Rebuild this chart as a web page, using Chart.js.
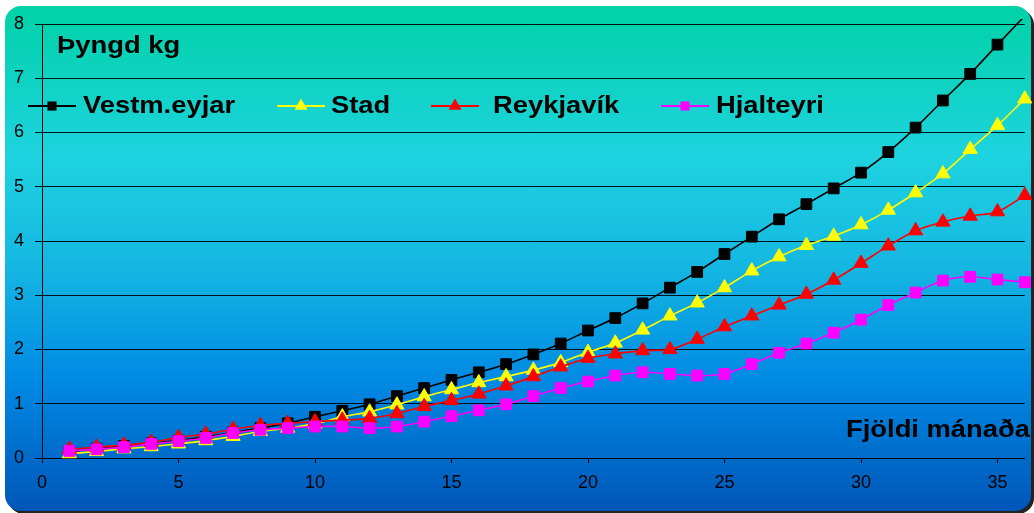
<!DOCTYPE html>
<html>
<head>
<meta charset="utf-8">
<script src="https://cdn.jsdelivr.net/npm/chart.js@4/dist/chart.umd.min.js"></script>
<style>
  html, body { margin: 0; padding: 0; background: #ffffff; }
  canvas { display: block; }
</style>
</head>
<body>
<canvas id="chart" width="1034" height="513"></canvas>
<script>
// Age in months
const months = [1, 2, 3, 4, 5, 6, 7, 8, 9, 10, 11, 12, 13, 14, 15, 16, 17, 18,
                19, 20, 21, 22, 23, 24, 25, 26, 27, 28, 29, 30, 31, 32, 33, 34, 35, 36];

// Mean weight (kg) per location
const vestmannaeyjar = [0.12, 0.17, 0.22, 0.27, 0.32, 0.39, 0.47, 0.55, 0.64, 0.76, 0.87, 0.99,
                        1.14, 1.29, 1.44, 1.58, 1.73, 1.91, 2.11, 2.35, 2.58, 2.85, 3.14, 3.43,
                        3.76, 4.08, 4.40, 4.68, 4.97, 5.26, 5.64, 6.09, 6.59, 7.08, 7.62, 8.15];
const stad = [0.08, 0.12, 0.17, 0.21, 0.26, 0.32, 0.40, 0.49, 0.55, 0.63, 0.76, 0.85,
              0.98, 1.13, 1.26, 1.39, 1.50, 1.62, 1.76, 1.95, 2.12, 2.36, 2.62, 2.86,
              3.14, 3.45, 3.71, 3.92, 4.09, 4.30, 4.57, 4.89, 5.24, 5.69, 6.13, 6.62];
const reykjavik = [0.16, 0.20, 0.24, 0.29, 0.38, 0.44, 0.53, 0.60, 0.64, 0.67, 0.70, 0.73,
                   0.82, 0.95, 1.06, 1.18, 1.33, 1.50, 1.68, 1.84, 1.92, 1.98, 2.00, 2.19,
                   2.42, 2.62, 2.82, 3.02, 3.28, 3.59, 3.91, 4.19, 4.35, 4.46, 4.54, 4.84];
const hjalteyri = [0.13, 0.16, 0.20, 0.26, 0.31, 0.37, 0.46, 0.52, 0.55, 0.58, 0.58, 0.55,
                   0.58, 0.67, 0.77, 0.88, 0.99, 1.14, 1.29, 1.41, 1.52, 1.58, 1.55, 1.52,
                   1.55, 1.73, 1.94, 2.11, 2.31, 2.55, 2.82, 3.05, 3.27, 3.34, 3.29, 3.24];

const seriesNames = ['Vestm.eyjar', 'Stad', 'Reykjavík', 'Hjalteyri'];
const yAxisTitle = 'Þyngd kg';
const xAxisTitle = 'Fjöldi mánaða';

const FONT = '"Liberation Sans", Arial, Helvetica, sans-serif';

function toPoints(values) {
  return months.map((m, i) => ({ x: m, y: values[i] }));
}

// Rounded panel with vertical gradient behind the whole chart
const panelBackground = {
  id: 'panelBackground',
  beforeDraw(chart) {
    const ctx = chart.ctx;
    const W = chart.width, H = chart.height;
    ctx.save();
    ctx.fillStyle = '#ffffff';
    ctx.fillRect(0, 0, W, H);
    const x = 5, y = 6, w = 1026, h = 505, r = 16;
    // soft drop shadow on the right / bottom
    ctx.fillStyle = '#222222';
    ctx.beginPath();
    ctx.roundRect(x + 3, y + 3, w, h, r);
    ctx.fill();
    const g = ctx.createLinearGradient(0, y, 0, y + h);
    g.addColorStop(0.00, '#00d2a6');
    g.addColorStop(0.30, '#1ed3e0');
    g.addColorStop(0.52, '#14b6e2');
    g.addColorStop(0.74, '#008ae4');
    g.addColorStop(1.00, '#0056b8');
    ctx.fillStyle = g;
    ctx.beginPath();
    ctx.roundRect(x, y, w, h, r);
    ctx.fill();
    ctx.restore();
  }
};

function stretchedText(ctx, text, x, y, sx) {
  ctx.save();
  ctx.translate(x, y);
  ctx.scale(sx, 1);
  ctx.fillText(text, 0, 0);
  ctx.restore();
}

function drawMarker(ctx, style, color, x, y, r) {
  ctx.save();
  ctx.fillStyle = color;
  ctx.beginPath();
  if (style === 'triangle') {
    const a = r * 0.866;
    ctx.moveTo(x, y - r);
    ctx.lineTo(x + a, y + r / 2);
    ctx.lineTo(x - a, y + r / 2);
    ctx.closePath();
  } else {
    ctx.rect(x - r * 0.7, y - r * 0.7, r * 1.4, r * 1.4);
  }
  ctx.fill();
  ctx.restore();
}

// Axis titles and the single-row legend drawn inside the plot
const chartText = {
  id: 'chartText',
  afterDraw(chart) {
    const ctx = chart.ctx;
    ctx.save();
    ctx.fillStyle = '#000000';
    ctx.font = 'bold 24px ' + FONT;
    ctx.textBaseline = 'alphabetic';
    ctx.textAlign = 'left';
    stretchedText(ctx, yAxisTitle, 57, 53, 1.14);
    stretchedText(ctx, xAxisTitle, 846, 437, 1.14);

    const legendY = 106;
    const lineStarts = [28, 277, 431, 661];
    const textStarts = [83, 331, 493, 716];
    chart.data.datasets.forEach((ds, i) => {
      const x0 = lineStarts[i];
      ctx.strokeStyle = ds.borderColor;
      ctx.lineWidth = 2;
      ctx.beginPath();
      ctx.moveTo(x0, legendY);
      ctx.lineTo(x0 + 48, legendY);
      ctx.stroke();
      drawMarker(ctx, ds.pointStyle, ds.pointBackgroundColor, x0 + 24, legendY,
                 ds.pointStyle === 'triangle' ? 7.5 : 6.5);
      ctx.fillStyle = '#000000';
      stretchedText(ctx, ds.label, textStarts[i], 113, 1.14);
    });
    ctx.restore();
  }
};

function series(label, values, color, style, order) {
  return {
    label: label,
    data: toPoints(values),
    borderColor: color,
    backgroundColor: color,
    pointBackgroundColor: color,
    pointBorderColor: color,
    pointBorderWidth: 1,
    pointStyle: style,
    pointRadius: (c) => (c.parsed && c.parsed.y > 8 ? 0 : (style === 'triangle' ? 8.2 : 7.6)),
    borderWidth: 1.6,
    tension: 0.3,
    fill: false,
    order: order,
    clip: { left: 20, top: 5, right: 10, bottom: 10 }
  };
}

new Chart(document.getElementById('chart'), {
  type: 'line',
  data: {
    datasets: [
      series(seriesNames[0], vestmannaeyjar, '#000000', 'rect', 4),
      series(seriesNames[1], stad, '#ffff00', 'triangle', 3),
      series(seriesNames[2], reykjavik, '#ff0000', 'triangle', 2),
      series(seriesNames[3], hjalteyri, '#ff00ff', 'rect', 1)
    ]
  },
  options: {
    responsive: false,
    devicePixelRatio: 1,
    animation: false,
    layout: { padding: { top: 24, right: 5, bottom: 0, left: 0 } },
    plugins: {
      legend: { display: false },
      tooltip: { enabled: false },
      title: { display: false }
    },
    scales: {
      x: {
        type: 'linear',
        min: 0,
        max: 36,
        afterFit(scale) { scale.height = 55; },
        ticks: {
          stepSize: 5,
          includeBounds: false,
          color: '#000000',
          padding: 9,
          maxRotation: 0,
          font: { family: FONT, size: 18 }
        },
        grid: { drawOnChartArea: false, drawTicks: true, tickLength: 5, color: '#000000' },
        border: { display: true, color: '#000000', width: 1 }
      },
      y: {
        min: 0,
        max: 8,
        afterFit(scale) { scale.width = 42; },
        ticks: {
          stepSize: 1,
          color: '#000000',
          padding: 11,
          font: { family: FONT, size: 18 }
        },
        grid: { color: 'rgba(0,0,0,0.9)', lineWidth: 1, tickLength: 7 },
        border: { display: true, color: '#000000', width: 1 }
      }
    }
  },
  plugins: [panelBackground, chartText]
});
</script>
</body>
</html>
